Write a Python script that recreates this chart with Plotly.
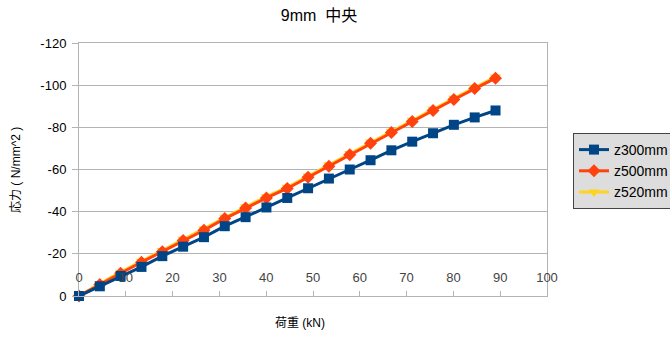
import plotly.graph_objects as go

load_kn = [0, 4.45, 8.9, 13.35, 17.8, 22.25, 26.7, 31.15, 35.6, 40.05, 44.5,
           48.95, 53.4, 57.85, 62.3, 66.75, 71.2, 75.65, 80.1, 84.55, 89.0]
z300 = [0, -4.6, -9.5, -13.8, -18.9, -23.4, -27.9, -33.1, -37.4, -42.0, -46.5,
        -51.1, -55.7, -60.0, -64.4, -69.1, -73.2, -77.2, -81.2, -84.7, -88.0]
z500 = [0, -5.5, -10.8, -16.0, -21.0, -26.3, -31.2, -36.7, -41.7, -46.5, -51.0,
        -56.3, -61.6, -67.0, -72.4, -77.5, -82.8, -88.0, -93.2, -98.4, -103.3]
z520 = [0, -5.9, -11.3, -16.5, -21.6, -26.9, -31.8, -37.3, -42.3, -47.1, -51.6,
        -56.9, -62.2, -67.6, -73.0, -78.1, -83.4, -88.6, -93.8, -99.0, -103.9]
y_ticks = [0, -20, -40, -60, -80, -100, -120]
y_tick_text = ["0", "-20", "-40", "-60", "-80", "-100", "-120"]
x_ticks = [0, 10, 20, 30, 40, 50, 60, 70, 80, 90, 100]
x_tick_text = ["0", "10", "20", "30", "40", "50", "60", "70", "80", "90", "100"]

BLUE = "#004586"
ORANGE = "#ff420e"
YELLOW = "#ffd320"
GRID = "#b3b3b3"
FONT = "Liberation Sans, Noto Sans CJK JP, sans-serif"

# plot area in pixels
W, H = 670, 338
L, R, T, B = 79, 547, 43, 296


def px(xp):
    return (xp - L) / (R - L)


def py(yp):
    return (B - yp) / (B - T)


fig = go.Figure()
fig.add_trace(go.Scatter(x=load_kn, y=z520, name="z520mm", mode="lines+markers",
                         line=dict(color=YELLOW, width=3),
                         marker=dict(symbol="triangle-down", size=10, color=YELLOW),
                         cliponaxis=False, legendrank=3))
fig.add_trace(go.Scatter(x=load_kn, y=z500, name="z500mm", mode="lines+markers",
                         line=dict(color=ORANGE, width=3),
                         marker=dict(symbol="diamond", size=10, color=ORANGE),
                         cliponaxis=False, legendrank=2))
fig.add_trace(go.Scatter(x=load_kn, y=z300, name="z300mm", mode="lines+markers",
                         line=dict(color=BLUE, width=3),
                         marker=dict(symbol="square", size=10, color=BLUE),
                         cliponaxis=False, legendrank=1))

fig.update_layout(
    width=W, height=H,
    margin=dict(l=L, r=W - R, t=T, b=H - B, autoexpand=False),
    paper_bgcolor="white", plot_bgcolor="white",
    font=dict(family=FONT, size=13, color="#000000"),
    title=dict(text="9mm  中央", x=319 / W, xanchor="center", y=1 - 15 / H,
               yanchor="middle", font=dict(size=16, family=FONT)),
    showlegend=True,
    legend=dict(x=573 / W, xanchor="left", y=1 - 133 / H, yanchor="top",
                xref="container", yref="container",
                bgcolor="#dddddd", bordercolor="#444444", borderwidth=1,
                font=dict(size=14, family=FONT), itemwidth=30,
                tracegroupgap=0),
    xaxis=dict(range=[0, 100], tickvals=x_ticks, ticktext=x_tick_text,
               ticks="inside", ticklen=5,
               tickcolor=GRID, ticklabelposition="inside", ticklabeloverflow="allow",
               showgrid=False,
               showline=True, linecolor=GRID, linewidth=1, mirror=True,
               zeroline=False, tickfont=dict(size=13), ticklabelstandoff=6),
    yaxis=dict(range=[0, -120], tickvals=y_ticks, ticktext=y_tick_text,
               ticks="outside", ticklen=6, ticklabeloverflow="allow",
               tickcolor=GRID, showgrid=True, gridcolor=GRID, gridwidth=1,
               showline=True, linecolor=GRID, linewidth=1, mirror=True,
               zeroline=False, tickfont=dict(size=13), ticklabelstandoff=3),
    annotations=[
        dict(text="荷重 (kN)", x=px(300), y=py(323), xref="paper", yref="paper",
             xanchor="center", yanchor="middle", showarrow=False,
             font=dict(size=12, family=FONT)),
        dict(text="応力 ( N/mm^2 )", x=px(16), y=py(170), xref="paper", yref="paper",
             xanchor="center", yanchor="middle", showarrow=False, textangle=-90,
             font=dict(size=12, family=FONT)),
    ],
)

fig.write_html("out.html")
